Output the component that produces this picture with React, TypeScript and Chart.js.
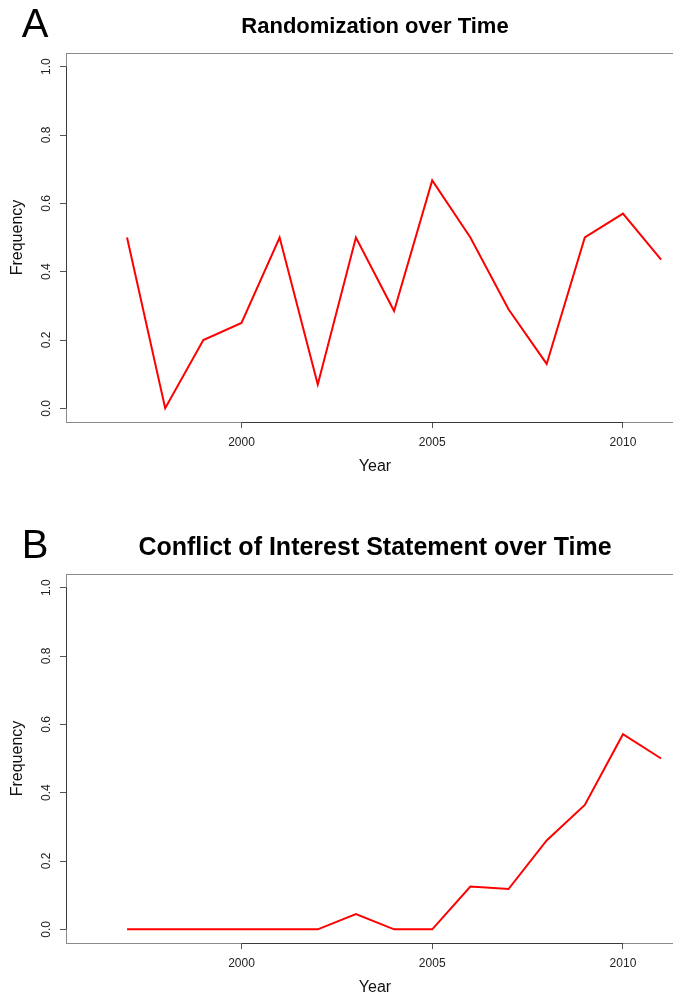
import React, { useEffect, useRef } from "react";
import { Chart, registerables } from "chart.js";

Chart.register(...registerables);

// ---- data ----
const years = [1997, 1998, 1999, 2000, 2001, 2002, 2003, 2004, 2005, 2006, 2007, 2008, 2009, 2010, 2011];
const randomization = [0.5, 0.0, 0.2, 0.25, 0.5, 0.07, 0.5, 0.285, 0.667, 0.5, 0.29, 0.13, 0.5, 0.57, 0.435];
const conflictOfInterest = [0, 0, 0, 0, 0, 0, 0.045, 0, 0, 0.125, 0.118, 0.26, 0.364, 0.571, 0.5];
const xTickValues = [2000, 2005, 2010];
const yTickValues = [0, 0.2, 0.4, 0.6, 0.8, 1.0];
const panelTitles = ["Randomization over Time", "Conflict of Interest Statement over Time"];
const panelTitleSizes = [22, 25];
const panelLetters = ["A", "B"];
const xAxisLabel = "Year";
const yAxisLabel = "Frequency";

const X_MIN = 1995.4;
const X_MAX = 2011.6;
const Y_MIN = -0.04;
const Y_MAX = 1.04;

const FONT = "'Liberation Sans', Arial, Helvetica, sans-serif";
const CANVAS_W = 690;
const CANVAS_H = 521;

function makeFramePlugin(title: string, titleSize: number, letter: string) {
  return {
    id: "rFrame",
    afterDraw(chart: any) {
      const { ctx, chartArea, scales } = chart;
      const { left, right, top, bottom } = chartArea;
      ctx.save();
      // plot box
      ctx.strokeStyle = "#8a8a8a";
      ctx.lineWidth = 1;
      ctx.strokeRect(Math.round(left) + 0.5, Math.round(top) + 0.5, Math.round(right - left), Math.round(bottom - top));
      // axis segments (first to last tick)
      ctx.strokeStyle = "#3a3a3a";
      const xs = scales.x;
      const ys = scales.y;
      const bx = Math.round(bottom) + 0.5;
      ctx.beginPath();
      ctx.moveTo(xs.getPixelForValue(xTickValues[0]), bx);
      ctx.lineTo(xs.getPixelForValue(xTickValues[xTickValues.length - 1]), bx);
      ctx.stroke();
      const lx = Math.round(left) + 0.5;
      ctx.beginPath();
      ctx.moveTo(lx, ys.getPixelForValue(yTickValues[0]));
      ctx.lineTo(lx, ys.getPixelForValue(yTickValues[yTickValues.length - 1]));
      ctx.stroke();
      // main title
      ctx.fillStyle = "#000";
      ctx.font = `bold ${titleSize}px ${FONT}`;
      ctx.textAlign = "center";
      ctx.textBaseline = "middle";
      ctx.fillText(title, (left + right) / 2, 27);
      // panel letter
      ctx.font = `40px ${FONT}`;
      ctx.fillText(letter, 35, 26);
      ctx.restore();
    },
  };
}

function Panel({ idx, values }: { idx: number; values: number[] }) {
  const ref = useRef<HTMLCanvasElement | null>(null);
  useEffect(() => {
    if (!ref.current) return;
    const chart = new Chart(ref.current, {
      type: "line",
      data: {
        datasets: [
          {
            data: years.map((y, i) => ({ x: y, y: values[i] })),
            borderColor: "#ff0000",
            borderWidth: 2,
            pointRadius: 0,
            tension: 0,
            fill: false,
          },
        ],
      },
      options: {
        responsive: false,
        animation: false,
        events: [],
        layout: { padding: { top: 53, right: CANVAS_W - 684, left: 0, bottom: 0 } },
        plugins: { legend: { display: false }, title: { display: false }, tooltip: { enabled: false } },
        scales: {
          x: {
            type: "linear",
            min: X_MIN,
            max: X_MAX,
            afterBuildTicks: (s: any) => {
              s.ticks = xTickValues.map((v) => ({ value: v }));
            },
            afterFit: (s: any) => {
              s.height = CANVAS_H - 422;
            },
            grid: { drawOnChartArea: false, drawTicks: true, tickLength: 6, color: "#555", lineWidth: 1 },
            border: { display: false },
            ticks: {
              autoSkip: false,
              maxRotation: 0,
              minRotation: 0,
              padding: 7,
              color: "#222",
              font: { size: 12, family: FONT },
              callback: (v: any) => String(v),
            },
            title: {
              display: true,
              text: xAxisLabel,
              color: "#111",
              font: { size: 16, family: FONT },
              padding: { top: 0, bottom: 45 },
            },
          },
          y: {
            type: "linear",
            min: Y_MIN,
            max: Y_MAX,
            afterBuildTicks: (s: any) => {
              s.ticks = yTickValues.map((v) => ({ value: v }));
            },
            afterFit: (s: any) => {
              s.width = 66;
            },
            grid: { drawOnChartArea: false, drawTicks: true, tickLength: 6, color: "#555", lineWidth: 1 },
            border: { display: false },
            ticks: {
              autoSkip: false,
              minRotation: 90,
              maxRotation: 90,
              crossAlign: "center",
              padding: 5,
              color: "#222",
              font: { size: 12, family: FONT },
              callback: (v: any) => Number(v).toFixed(1),
            },
            title: {
              display: true,
              text: yAxisLabel,
              color: "#111",
              font: { size: 16, family: FONT },
              padding: { top: 8, bottom: 0 },
            },
          },
        },
      },
      plugins: [makeFramePlugin(panelTitles[idx], panelTitleSizes[idx], panelLetters[idx])],
    } as any);
    return () => chart.destroy();
  }, [idx, values]);
  return (
    <canvas
      ref={ref}
      width={CANVAS_W}
      height={CANVAS_H}
      style={{ position: "absolute", left: 0, top: idx * CANVAS_H, display: "block" }}
    />
  );
}

export default function App() {
  return (
    <div
      style={{
        position: "absolute",
        left: 0,
        top: 0,
        width: 673,
        height: 997,
        overflow: "hidden",
        background: "#fff",
      }}
    >
      <Panel idx={0} values={randomization} />
      <Panel idx={1} values={conflictOfInterest} />
    </div>
  );
}
